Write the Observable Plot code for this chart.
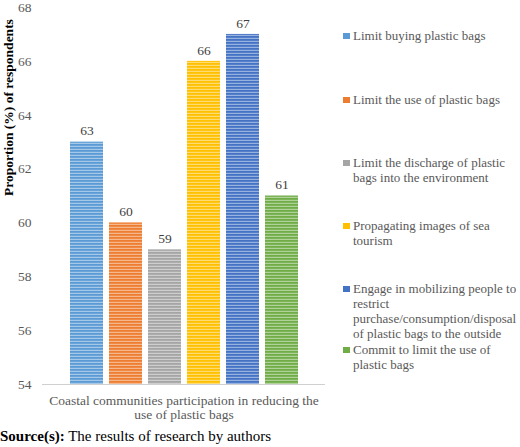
<!DOCTYPE html>
<html>
<head>
<meta charset="utf-8">
<script src="https://cdn.jsdelivr.net/npm/d3@7"></script>
<script src="https://cdn.jsdelivr.net/npm/@observablehq/plot@0.6"></script>
<style>
  html, body { margin: 0; padding: 0; background: #fff; }
  #wrap { position: relative; width: 520px; height: 447px; font-family: "Liberation Serif", "Times New Roman", serif; }
  #legend .item { position: absolute; left: 343px; font-size: 13px; line-height: 15px; color: #595959; }
  #legend .sw { position: absolute; left: 0; top: 5px; width: 7px; height: 6px; }
  #legend .tx { margin-left: 10px; white-space: nowrap; }
  #source { font-size: 15px; line-height: 22px; color: #000; white-space: nowrap; }
</style>
</head>
<body>
<div id="wrap"><div id="chart"></div><div id="legend"></div><div id="source"><b>Source(s):</b> The results of research by authors</div></div>
<script>
const categories = [
  "Limit buying plastic bags",
  "Limit the use of plastic bags",
  "Limit the discharge of plastic bags into the environment",
  "Propagating images of sea tourism",
  "Engage in mobilizing people to restrict purchase/consumption/disposal of plastic bags to the outside",
  "Commit to limit the use of plastic bags"
];
const legendLines = [
  ["Limit buying plastic bags"],
  ["Limit the use of plastic bags"],
  ["Limit the discharge of plastic", "bags into the environment"],
  ["Propagating images of sea", "tourism"],
  ["Engage in mobilizing people to", "restrict", "purchase/consumption/disposal", "of plastic bags to the outside"],
  ["Commit to limit the use of", "plastic bags"]
];
const values = [63, 60, 59, 66, 67, 61];
const colors = ["#5B9BD5", "#ED7D31", "#A5A5A5", "#FFC000", "#4472C4", "#70AD47"];
const yTicks = [54, 56, 58, 60, 62, 64, 66, 68];
const yMin = 54, yMax = 68;
const xTitle = "Coastal communities participation in reducing the\nuse of plastic bags";
const yTitle = "Proportion (%) of respondents";

const data = categories.map((c, i) => ({cat: c, value: values[i]}));

const chart = Plot.plot({
  width: 520,
  height: 425,
  marginLeft: 42,
  marginRight: 195,
  marginTop: 7,
  marginBottom: 41,
  style: {fontFamily: "'Liberation Serif', 'Times New Roman', serif", fontSize: "13.5px", color: "#595959", background: "white"},
  x: {domain: categories, axis: null, paddingInner: 0.16, paddingOuter: 0.67},
  y: {domain: [yMin, yMax], ticks: yTicks, tickSize: 0, tickPadding: 11, label: null},
  color: {domain: categories, range: colors},
  marks: [
    Plot.barY(data, {x: "cat", y1: yMin, y2: "value", fill: "cat"}),
    Plot.ruleY([yMin], {stroke: "#d0d0d0", strokeWidth: 1}),
    Plot.text(data, {x: "cat", y: "value", text: d => String(d.value), dy: -11, fill: "#404040", fontSize: 13.5}),
    Plot.text([xTitle], {text: d => d, frameAnchor: "bottom", lineAnchor: "top", dy: 11, fill: "#595959", fontSize: 13.5}),
    Plot.text([yTitle], {text: d => d, frameAnchor: "left", dx: -34, rotate: -90, fontWeight: "bold", fill: "#000", fontSize: 13.5})
  ]
});

// striped fill patterns
const svgNS = "http://www.w3.org/2000/svg";
const defs = document.createElementNS(svgNS, "defs");
chart.insertBefore(defs, chart.firstChild);
chart.querySelectorAll("g[aria-label='bar'] rect").forEach((r, i) => {
  const col = r.getAttribute("fill");
  const id = "stripe" + i;
  const p = document.createElementNS(svgNS, "pattern");
  p.setAttribute("id", id);
  p.setAttribute("patternUnits", "userSpaceOnUse");
  p.setAttribute("width", 8);
  p.setAttribute("height", 3);
  const base = document.createElementNS(svgNS, "rect");
  base.setAttribute("width", 8); base.setAttribute("height", 3); base.setAttribute("fill", col);
  const line = document.createElementNS(svgNS, "rect");
  line.setAttribute("width", 8); line.setAttribute("height", 1.2); line.setAttribute("y", 1.8);
  line.setAttribute("fill", "#fff"); line.setAttribute("fill-opacity", 0.45);
  p.appendChild(base); p.appendChild(line);
  defs.appendChild(p);
  r.setAttribute("fill", `url(#${id})`);
});
document.getElementById("chart").appendChild(chart);

// legend
const tops = [28, 92, 155, 218, 281, 342];
const legend = document.getElementById("legend");
legendLines.forEach((lines, i) => {
  const item = document.createElement("div");
  item.className = "item";
  item.style.top = tops[i] + "px";
  const sw = document.createElement("div");
  sw.className = "sw";
  sw.style.background = colors[i];
  const tx = document.createElement("div");
  tx.className = "tx";
  tx.innerHTML = lines.join("<br>");
  item.appendChild(sw); item.appendChild(tx);
  legend.appendChild(item);
});
</script>
</body>
</html>
